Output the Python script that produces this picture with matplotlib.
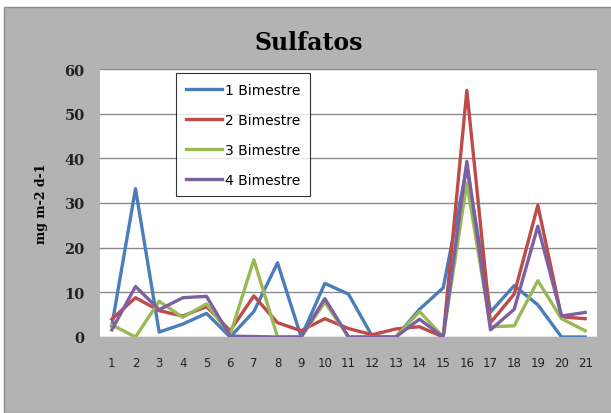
import matplotlib.pyplot as plt
from matplotlib.patches import Rectangle

# datos
puntos = list(range(1, 22))
bim1 = [2.5, 33.2, 1.1, 2.9, 5.3, 0, 5.7, 16.6, 0, 12, 9.6, 0.2, 0, 6.2, 11, 38, 5.6, 11.5, 7.2, 0, 0]
bim2 = [4, 8.8, 5.9, 4.7, 6.8, 1.4, 9.2, 3.2, 1.4, 4.1, 1.9, 0.5, 1.8, 2.3, 0, 55.2, 3.2, 9.6, 29.5, 4.5, 4.1]
bim3 = [2.7, 0, 8, 4.4, 7.4, 0.5, 17.3, 0, 0, 7.8, 0, 0, 0, 5.7, 0, 34.5, 2.3, 2.5, 12.6, 4.1, 1.4]
bim4 = [1.6, 11.3, 6.1, 8.8, 9.1, 0.2, 0.1, 0, 0, 8.6, 0, 0, 0, 4, 0, 39.3, 1.6, 6.2, 24.8, 4.7, 5.5]
nombres = ['1 Bimestre', '2 Bimestre', '3 Bimestre', '4 Bimestre']
colores = ['#4a7ebb', '#be4b48', '#98b954', '#7d60a0']

fig = plt.figure(figsize=(6.11, 4.14), dpi=100)
fig.patch.set_facecolor('white')
fig.patches.append(Rectangle((4/611, 0), 1, 1 - 8/414, transform=fig.transFigure,
                             facecolor='#b3b3b3', edgecolor='#8c8c8c', lw=1, zorder=-10))

ax = fig.add_axes([100/611, 76/414, 497/611, 268/414])
ax.set_zorder(1)
ax.set_facecolor('white')
for s, nom, c in zip([bim1, bim2, bim3, bim4], nombres, colores):
    ax.plot(puntos, s, color=c, lw=2.4, label=nom, zorder=3)

ax.set_xlim(0.5, 21.5)
ax.set_ylim(0, 60)
ax.set_xticks(puntos)
ax.set_yticks(range(0, 61, 10))
ax.yaxis.grid(True, color='#8a8a8a', lw=1)
ax.set_axisbelow(True)
for sp in ax.spines.values():
    sp.set_visible(False)
ax.tick_params(length=0)
ax.tick_params(axis='x', pad=14, labelsize=8.5, labelcolor='#222222')
ax.tick_params(axis='y', pad=11, labelsize=10.5, labelcolor='#222222')
for t in ax.get_yticklabels():
    t.set_family('DejaVu Serif')
    t.set_fontweight('semibold')

ax.set_ylabel('mg m-2 d-1', family='DejaVu Serif', fontweight='bold', fontsize=9, labelpad=12)
fig.text(0.505, 0.895, 'Sulfatos', ha='center', va='center', family='DejaVu Serif',
         fontweight='bold', fontsize=17)

leg = ax.legend(loc='upper left', bbox_to_anchor=(0.153, 0.985), borderaxespad=0,
                frameon=True, fancybox=False, edgecolor='black', fontsize=10,
                handlelength=2.6, handletextpad=0.2, labelspacing=1.15, borderpad=0.7)
leg.get_frame().set_linewidth(0.8)

fig.savefig('out.png', dpi=100)
